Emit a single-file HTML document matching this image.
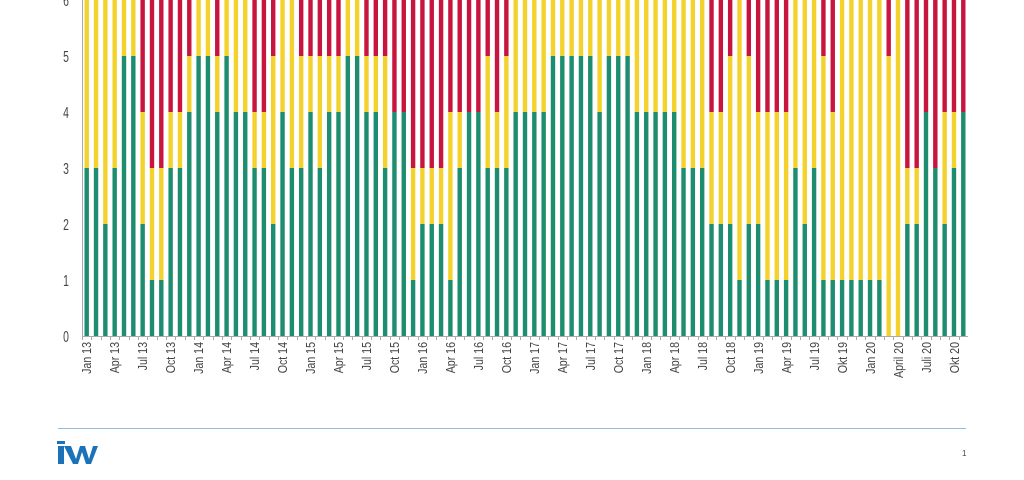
<!DOCTYPE html>
<html><head><meta charset="utf-8"><style>
html,body{margin:0;padding:0;background:#fff;width:1024px;height:480px;overflow:hidden}
svg{display:block}
text{font-family:"Liberation Sans Narrow","Liberation Sans",sans-serif;fill:#444}
</style></head><body>
<svg id="s" width="1024" height="480" viewBox="0 0 1024 480">
<line x1="82.5" y1="0" x2="82.5" y2="336" stroke="#aaa" stroke-width="1"/>
<line x1="82" y1="336.5" x2="968" y2="336.5" stroke="#aaa" stroke-width="1"/>
<g id="bars"></g>
<g id="ticks"></g>
<g font-size="16" text-anchor="middle">
<text transform="translate(66,342) scale(0.65,1)">0</text><text transform="translate(66,286) scale(0.65,1)">1</text><text transform="translate(66,230) scale(0.65,1)">2</text>
<text transform="translate(66,174) scale(0.65,1)">3</text><text transform="translate(66,118) scale(0.65,1)">4</text><text transform="translate(66,62) scale(0.65,1)">5</text><text transform="translate(66,6) scale(0.65,1)">6</text>
</g>
<g font-size="12.5" text-anchor="end">
<text transform="translate(91,342) rotate(-90) scale(0.85,1)">Jan 13</text>
<text transform="translate(119,342) rotate(-90) scale(0.85,1)">Apr 13</text>
<text transform="translate(147,342) rotate(-90) scale(0.85,1)">Jul 13</text>
<text transform="translate(175,342) rotate(-90) scale(0.85,1)">Oct 13</text>
<text transform="translate(203,342) rotate(-90) scale(0.85,1)">Jan 14</text>
<text transform="translate(231,342) rotate(-90) scale(0.85,1)">Apr 14</text>
<text transform="translate(259,342) rotate(-90) scale(0.85,1)">Jul 14</text>
<text transform="translate(287,342) rotate(-90) scale(0.85,1)">Oct 14</text>
<text transform="translate(315,342) rotate(-90) scale(0.85,1)">Jan 15</text>
<text transform="translate(343,342) rotate(-90) scale(0.85,1)">Apr 15</text>
<text transform="translate(371,342) rotate(-90) scale(0.85,1)">Jul 15</text>
<text transform="translate(399,342) rotate(-90) scale(0.85,1)">Oct 15</text>
<text transform="translate(427,342) rotate(-90) scale(0.85,1)">Jan 16</text>
<text transform="translate(455,342) rotate(-90) scale(0.85,1)">Apr 16</text>
<text transform="translate(483,342) rotate(-90) scale(0.85,1)">Jul 16</text>
<text transform="translate(511,342) rotate(-90) scale(0.85,1)">Oct 16</text>
<text transform="translate(539,342) rotate(-90) scale(0.85,1)">Jan 17</text>
<text transform="translate(567,342) rotate(-90) scale(0.85,1)">Apr 17</text>
<text transform="translate(595,342) rotate(-90) scale(0.85,1)">Jul 17</text>
<text transform="translate(623,342) rotate(-90) scale(0.85,1)">Oct 17</text>
<text transform="translate(651,342) rotate(-90) scale(0.85,1)">Jan 18</text>
<text transform="translate(679,342) rotate(-90) scale(0.85,1)">Apr 18</text>
<text transform="translate(707,342) rotate(-90) scale(0.85,1)">Jul 18</text>
<text transform="translate(735,342) rotate(-90) scale(0.85,1)">Oct 18</text>
<text transform="translate(763,342) rotate(-90) scale(0.85,1)">Jan 19</text>
<text transform="translate(791,342) rotate(-90) scale(0.85,1)">Apr 19</text>
<text transform="translate(819,342) rotate(-90) scale(0.85,1)">Jul 19</text>
<text transform="translate(847,342) rotate(-90) scale(0.85,1)">Okt 19</text>
<text transform="translate(875,342) rotate(-90) scale(0.85,1)">Jan 20</text>
<text transform="translate(903,342) rotate(-90) scale(0.85,1)">April 20</text>
<text transform="translate(931,342) rotate(-90) scale(0.85,1)">Juli 20</text>
<text transform="translate(959,342) rotate(-90) scale(0.85,1)">Okt 20</text>
</g>
<line x1="58" y1="428.5" x2="966" y2="428.5" stroke="#9bbbd8" stroke-width="1"/>
<g fill="#1b72b8">
<rect x="58" y="446" width="6" height="18"/>
<rect x="57" y="441" width="8" height="3"/>
<polygon points="64,446 71,446 76,459 80,446 85,446 89,459 93,446 98,446 91,464 86,464 82,452 78,464 73,464"/>
</g>
<text x="962" y="456" font-size="8" fill="#999">1</text>
</svg>
<script>
var d=[[3,6],[3,6],[2,6],[3,6],[5,6],[5,6],[2,4],[1,3],[1,3],[3,4],[3,4],[4,5],[5,6],[5,6],[4,5],[5,6],[4,6],[4,6],[3,4],[3,4],[2,5],[4,6],[3,6],[3,5],[4,5],[3,5],[4,5],[4,5],[5,6],[5,6],[4,5],
[4,5],[3,5],[4,4],[4,4],[1,3],[2,3],[2,3],[2,3],[1,4],[3,4],[4,4],[4,4],[3,5],[3,4],[3,5],[4,6],[4,6],[4,6],[4,6],[5,6],[5,6],[5,6],[5,6],[5,6],[4,6],[5,6],[5,6],[5,6],[4,6],[4,6],[4,6],[4,6],
[4,6],[3,6],[3,6],[3,6],[2,4],[2,4],[2,5],[1,6],[2,5],[2,4],[1,4],[1,4],[1,4],[3,6],[2,6],[3,6],[1,5],[1,4],[1,6],[1,6],[1,6],[1,6],[1,6],[0,5],[0,6],[2,3],[2,3],[4,4],[3,3],[2,4],[3,4],[4,4]];
var ns="http://www.w3.org/2000/svg",b=document.getElementById("bars"),t=document.getElementById("ticks");
function r(x,y,w,h,c){var e=document.createElementNS(ns,"rect");e.setAttribute("x",x);e.setAttribute("y",y);e.setAttribute("width",w);e.setAttribute("height",h);e.setAttribute("fill",c);b.appendChild(e);}
var U=56,Y0=336,sp=(963.3-86.7)/94;
for(var i=0;i<d.length;i++){var cx=86.7+i*sp,x=cx-2.2,w=4.4,g=d[i][0],yl=d[i][1];
 if(yl<6)r(x,0,w,Y0-yl*U,"#c8153f");
 if(yl>g)r(x,Y0-yl*U,w,(yl-g)*U,"#f3d22e");
 if(g>0)r(x,Y0-g*U,w,g*U,"#1e8c6e");
 var l=document.createElementNS(ns,"line"),tx=Math.round(cx-sp/2)+0.5;l.setAttribute("x1",tx);l.setAttribute("x2",tx);l.setAttribute("y1",336);l.setAttribute("y2",340);l.setAttribute("stroke","#aaa");t.appendChild(l);}
</script>
</body></html>
